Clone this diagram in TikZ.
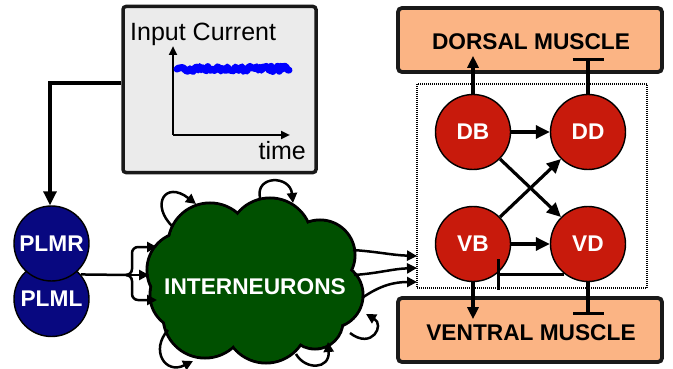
\documentclass[tikz,border=0pt]{standalone}
\usepackage{fontspec}
\setmainfont{Liberation Sans}
\usetikzlibrary{arrows.meta,calc}
\definecolor{boxgray}{RGB}{235,235,235}
\definecolor{plmblue}{RGB}{8,8,128}
\definecolor{mnred}{RGB}{200,26,12}
\definecolor{muscle}{RGB}{251,180,132}
\definecolor{cloudgreen}{RGB}{0,80,0}
\definecolor{edge}{RGB}{25,25,25}
\newcommand\boldlbl{\fontsize{22.7}{24}\selectfont\bfseries}
\newcommand\plainlbl{\fontsize{25}{27}\selectfont}
\begin{document}
\begin{tikzpicture}[x=1pt,y=-1pt,
  neuron/.style={circle, draw=black, line width=1.4pt, minimum size=75pt, inner sep=0pt, text=white, font=\boldlbl},
  musclebox/.style={draw=edge, line width=3.8pt, fill=muscle, rounded corners=4pt, minimum width=264pt, minimum height=64pt, inner sep=0pt},
  conn/.style={line width=3.2pt},
  thin/.style={line width=2.5pt},
  bigtip/.style={-{Triangle[length=14pt,width=13pt]}},
  midtip/.style={-{Triangle[length=12pt,width=11pt]}},
  smalltip/.style={-{Triangle[length=10pt,width=10pt]}},
  inhib/.style={-{Bar[width=31pt]}},
]
\fill[white] (0,0) rectangle (673,369);
\useasboundingbox (0,0) rectangle (673,369);

% input current box
\node[draw=edge, line width=3.5pt, fill=boxgray, rounded corners=3pt, minimum width=193pt, minimum height=166pt, inner sep=0pt] (inbox) at (219.5,89.5) {};
\node[font=\plainlbl, anchor=base west, inner sep=0pt] (inlabel) at (130,41) {Input Current};
\node[font=\plainlbl, anchor=base east, inner sep=0pt] (timelabel) at (306,160) {time};
\coordinate (orig) at (173,135);
\draw[line width=2.4pt, -{Triangle[length=9pt,width=8pt]}] (orig) -- (173,46);
\draw[line width=2.4pt, -{Triangle[length=9pt,width=8pt]}] (orig) -- (290,135);
\pgfmathsetseed{11}
\draw[blue, line width=7pt, line join=round, line cap=round] plot[domain=177:289, samples=70] (\x, {69 + 2.8*rand});

% PLM neurons
\node[neuron, fill=plmblue] (PLML) at (51.5,299) {PLML};
\node[neuron, fill=plmblue] (PLMR) at (51.5,243.5) {PLMR};
\coordinate (bend) at (50,83);
\draw[conn, bigtip] (inbox.west |- bend) -- (bend) -- (bend |- PLMR.north);

% cloud of interneurons
\foreach \cx/\cy/\r in {185/270/38, 210/245/42, 270/240/42, 320/255/35, 330/295/33, 315/321/28, 266/321/42, 205/316/42, 185/295/35}
  \draw[line width=3pt, fill=cloudgreen] (\cx,\cy) circle[radius=\r pt];
\foreach \cx/\cy/\r in {185/270/38, 210/245/42, 270/240/42, 320/255/35, 330/295/33, 315/321/28, 266/321/42, 205/316/42, 185/295/35}
  \fill[cloudgreen] (\cx,\cy) circle[radius=\r pt - 1.5pt];
\fill[cloudgreen] (185,250) rectangle (330,330);
\node[font=\boldlbl, text=white, inner sep=0pt] (inter) at (255,287) {INTERNEURONS};

% self loops
\draw[thin, smalltip] (173,227) .. controls (150,205) and (165,180) .. (196,204);
\draw[thin, smalltip] (260,198) .. controls (255,175) and (290,175) .. (293,203);
\draw[thin, smalltip] (168,330) .. controls (150,350) and (165,375) .. (193,361);
\draw[thin, smalltip] (296,354) .. controls (305,370) and (330,370) .. (328,342);
\draw[thin, smalltip] (350,333) .. controls (372,350) and (385,325) .. (366,314);

% input from PLM to cloud
\coordinate (split) at (128,275);
\coordinate (in1) at (157,247);
\coordinate (in2) at (149,275);
\coordinate (in3) at (157,300);
\draw[thin] (PLML.40) -- (split);
\draw[thin, smalltip, rounded corners=6pt] (split) -- (132,275) -- (132,247) -- (in1);
\draw[thin, smalltip] (split) -- (in2);
\draw[thin, smalltip, rounded corners=6pt] (split) -- (132,275) -- (132,300) -- (in3);

% motor circuit
\node[draw=black, line width=1.1pt, dash pattern=on 1pt off 1pt, minimum width=230pt, minimum height=204pt, inner sep=0pt] (motor) at (532,186) {};
\node[musclebox] (dorsal) at (530,40) {};
\node[font=\boldlbl, inner sep=0pt] (dorsallbl) at (531,41.5) {DORSAL MUSCLE};
\node[musclebox] (ventral) at (530,330) {};
\node[font=\boldlbl, inner sep=0pt] (ventrallbl) at (531,332.5) {VENTRAL MUSCLE};

\node[neuron, fill=mnred] (DB) at (473,132) {DB};
\node[neuron, fill=mnred] (DD) at (588,132) {DD};
\node[neuron, fill=mnred] (VB) at (473,244) {VB};
\node[neuron, fill=mnred] (VD) at (588,244) {VD};

% cloud to motor circuit
\coordinate (co1) at (353,250);
\coordinate (co2) at (354,275);
\coordinate (co3) at (362,298);
\coordinate (t1) at (417,256);
\coordinate (t2) at (417,268);
\coordinate (t3) at (417,282);
\draw[thin, smalltip] (co1) to[out=-4, in=178] (t1);
\draw[thin, smalltip] (co2) to[out=4, in=182] (t2);
\draw[thin, smalltip] (co3) to[out=35, in=180] (t3);

\draw[conn, midtip] (DB.north) -- ++(0,-38);
\draw[conn, inhib] (DD.north) -- ++(0,-36);
\draw[conn, midtip] (VB.south) -- ++(0,37);
\draw[conn, inhib] (VD.south) -- ++(0,33);
\draw[conn, bigtip] (DB.east) -- (DD.west);
\draw[conn, bigtip] (VB.east) -- (VD.west);
\draw[conn, bigtip] (DB.south east) -- (VD.north west);
\draw[conn, bigtip] (VB.north east) -- (DD.south west);
\coordinate (vbar) at (497,272);
\draw[conn, inhib] (VD.232) -- (VD.232 -| vbar);
\end{tikzpicture}
\end{document}
